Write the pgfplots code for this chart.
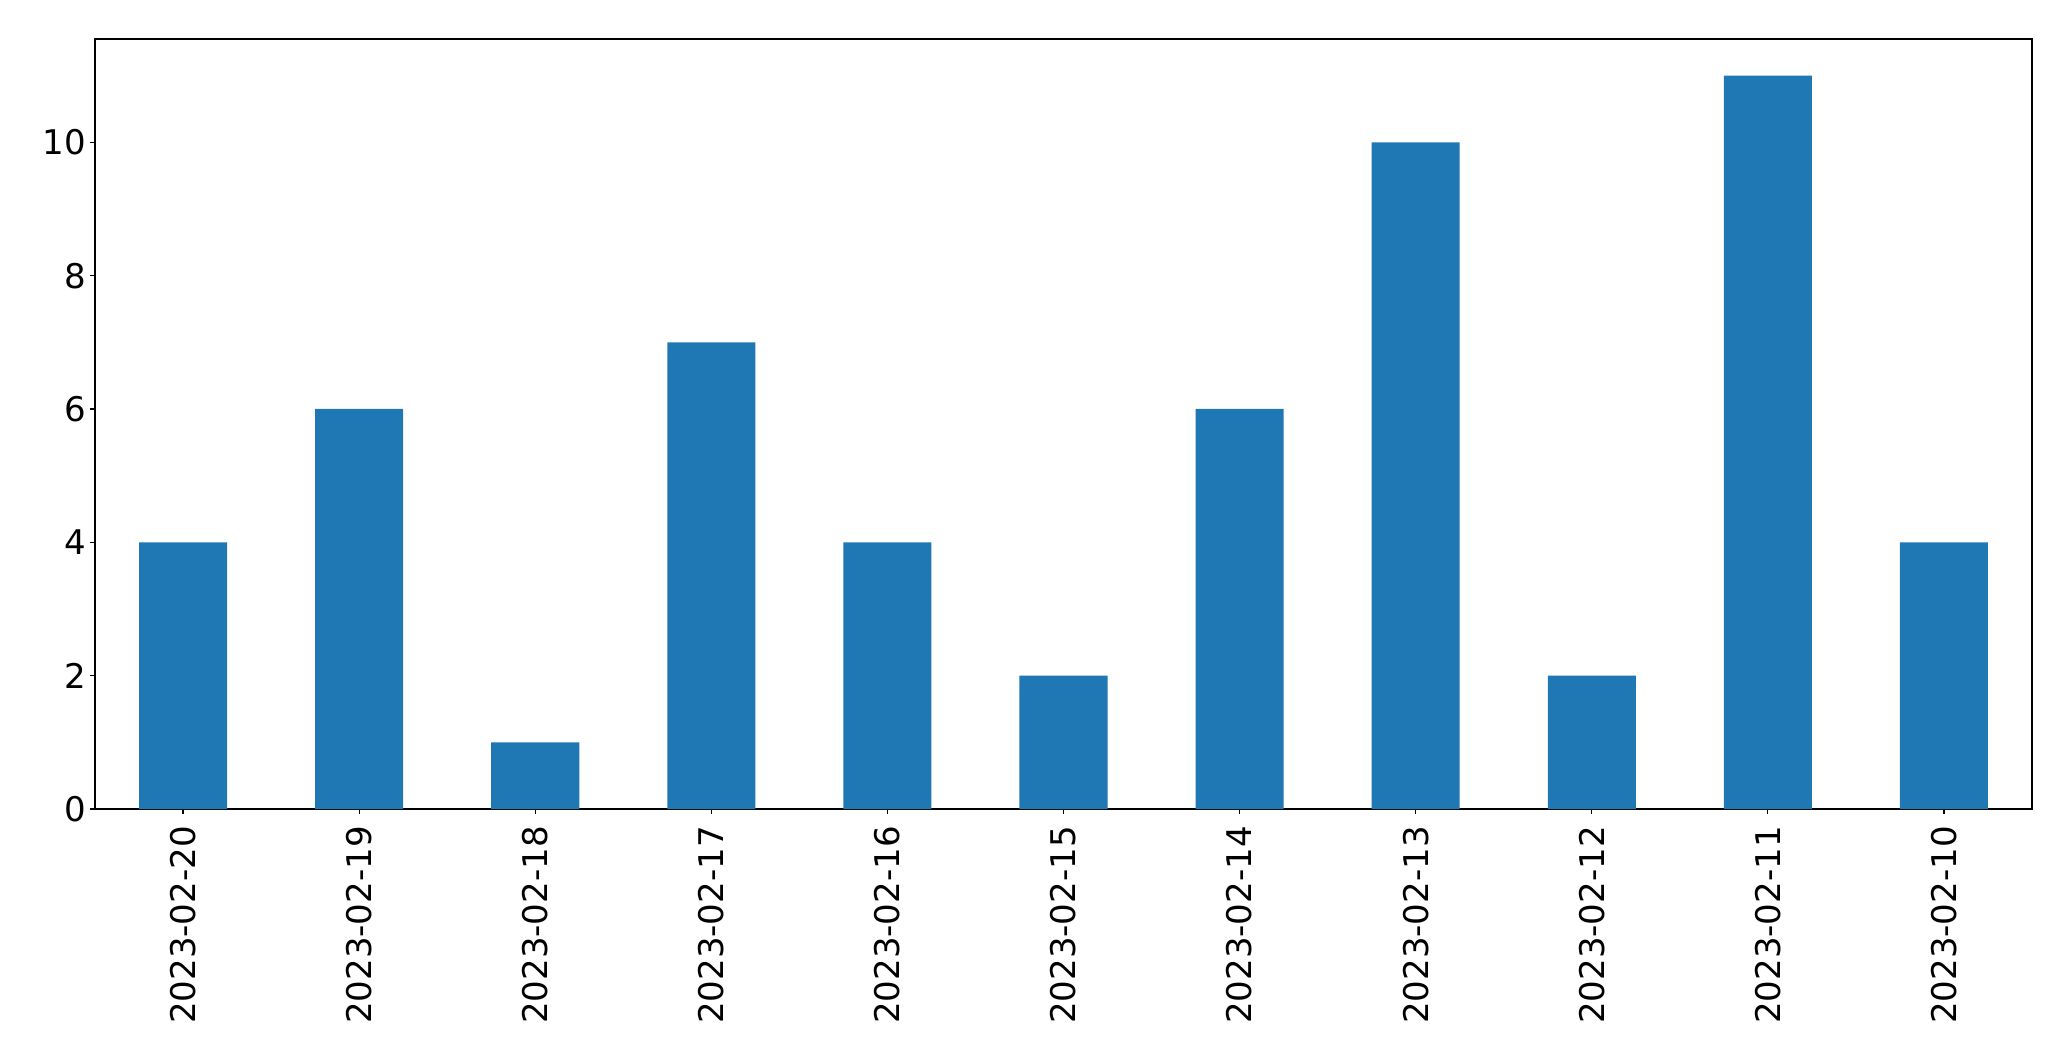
\documentclass[border=0pt]{standalone}
\usepackage{fontspec}
\setmainfont{DejaVu Sans}
\usepackage{pgfplots}
\pgfplotsset{compat=1.18}
\definecolor{barblue}{HTML}{1F77B4}

\begin{document}
\begin{tikzpicture}
\begin{axis}[
    name=ax,
    scale only axis,
    width=1937pt, height=770pt,
    xmin=-0.5, xmax=10.5,
    ymin=0, ymax=11.55,
    xtick=data,
    xticklabels={2023-02-20,2023-02-19,2023-02-18,2023-02-17,2023-02-16,2023-02-15,2023-02-14,2023-02-13,2023-02-12,2023-02-11,2023-02-10},
    ytick={0,2,...,10},
    xtick pos=bottom, ytick pos=left,
    tick align=outside,
    major tick length=5pt,
    every tick/.style={black, line width=1.1pt},
    axis line style={line width=1.1pt},
    /pgf/number format/assume math mode=true,
    tick label style={font=\fontsize{34}{40}\selectfont},
    xticklabel style={rotate=90, anchor=east, inner sep=12pt},
    yticklabel style={inner sep=4pt},
    ybar, bar width=0.5,
]
\addplot[fill=barblue, draw=none] coordinates {
    (0,4) (1,6) (2,1) (3,7) (4,4) (5,2) (6,6) (7,10) (8,2) (9,11) (10,4)
};
\end{axis}
\path ([shift={(-95pt,-252pt)}]ax.south west) rectangle ([shift={(39pt,39pt)}]ax.north east);
\end{tikzpicture}
\end{document}
